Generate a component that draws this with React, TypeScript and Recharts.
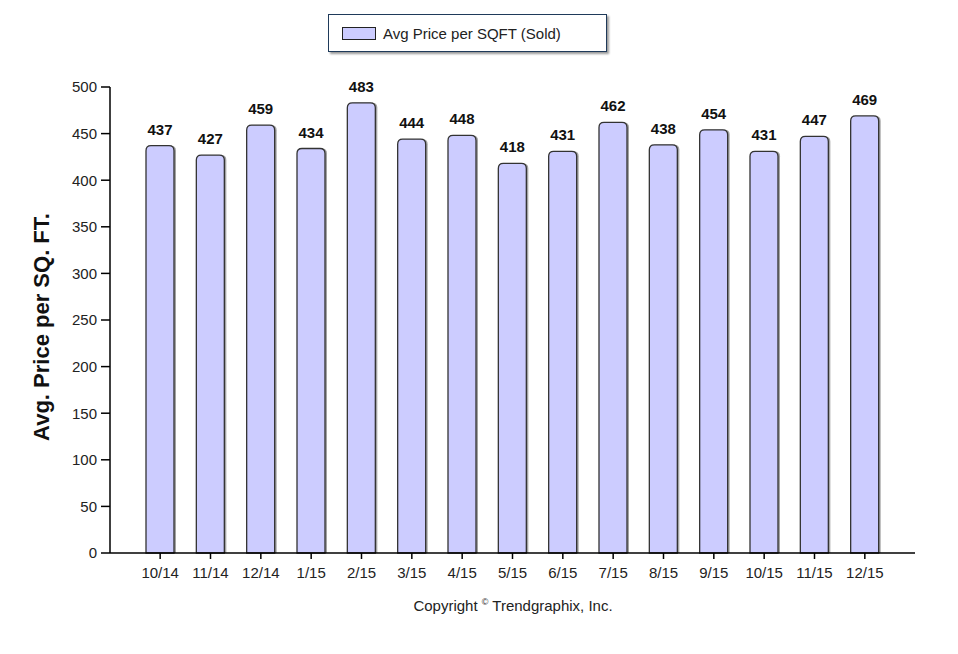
import React from 'react';
import { BarChart, Bar, XAxis, YAxis, LabelList, Legend } from 'recharts';

const months = ['10/14', '11/14', '12/14', '1/15', '2/15', '3/15', '4/15', '5/15', '6/15', '7/15', '8/15', '9/15', '10/15', '11/15', '12/15'];
const avgPrice = [437, 427, 459, 434, 483, 444, 448, 418, 431, 462, 438, 454, 431, 447, 469];
const yTicks = [0, 50, 100, 150, 200, 250, 300, 350, 400, 450, 500];

const data = months.map((m, i) => ({ month: m, price: avgPrice[i] }));

const FONT = '"Liberation Sans", Arial, sans-serif';

// rounded-top bar with a grey drop shadow on the right
function ShadowBar(props: any) {
  const { x, y, width, height } = props;
  if (!height || height <= 0) return null;
  const r = 5;
  const path = (ox: number) =>
    `M${x + ox},${y + height} L${x + ox},${y + r} Q${x + ox},${y} ${x + ox + r},${y} ` +
    `L${x + ox + width - r},${y} Q${x + ox + width},${y} ${x + ox + width},${y + r} L${x + ox + width},${y + height} Z`;
  return (
    <g>
      <path d={path(2)} fill="#8c8c8c" opacity={0.8} />
      <path d={path(0)} fill="#ccccff" stroke="#333" strokeWidth={1.3} />
    </g>
  );
}

function LegendBox() {
  return (
    <div
      style={{
        position: 'absolute',
        left: 320,
        top: 6,
        width: 279,
        height: 38,
        border: '1px solid #1f3a5a',
        boxShadow: '2px 2px 2px #9a9a9a',
        background: '#fff',
        display: 'flex',
        alignItems: 'center',
        fontFamily: FONT,
        fontSize: 15,
        color: '#222',
        boxSizing: 'border-box',
      }}
    >
      <span
        style={{
          display: 'inline-block',
          width: 32,
          height: 11,
          background: '#ccccff',
          border: '1px solid #222',
          marginLeft: 13,
          marginRight: 7,
        }}
      />
      Avg Price per SQFT (Sold)
    </div>
  );
}

function YLabel() {
  return (
    <text
      x={0}
      y={0}
      transform="translate(41,319) rotate(-90)"
      textAnchor="middle"
      fontFamily={FONT}
      fontSize={22}
      fontWeight="bold"
      fill="#111"
    >
      Avg. Price per SQ. FT.
    </text>
  );
}

export default function App() {
  return (
    <div style={{ position: 'relative', width: 950, height: 640 }}>
      <BarChart width={950} height={640} data={data} margin={{ top: 79, right: 43, bottom: 65, left: 0 }} barSize={28}>
        <XAxis
          dataKey="month"
          padding={{ left: 25, right: 25 }}
          axisLine={{ stroke: '#000', strokeWidth: 1.5 }}
          tickLine={{ stroke: '#000', strokeWidth: 1.5 }}
          tickSize={6}
          tickMargin={8}
          tick={{ fill: '#222', fontSize: 15, fontFamily: FONT }}
          height={30}
          interval={0}
        />
        <YAxis
          domain={[0, 500]}
          ticks={yTicks}
          width={102}
          axisLine={{ stroke: '#000', strokeWidth: 1.5 }}
          tickLine={{ stroke: '#000', strokeWidth: 1.5 }}
          tickSize={9}
          tickMargin={4}
          tick={{ fill: '#222', fontSize: 15, fontFamily: FONT }}
          label={<YLabel />}
        />
        <Legend content={() => null} />
        <Bar dataKey="price" shape={<ShadowBar />} isAnimationActive={false}>
          <LabelList dataKey="price" position="top" offset={11} style={{ fontFamily: FONT, fontSize: 15, fontWeight: 'bold', fill: '#111' }} />
        </Bar>
      </BarChart>
      <LegendBox />
      <div
        style={{
          position: 'absolute',
          left: 0,
          width: 1010,
          top: 589,
          textAlign: 'center',
          fontFamily: FONT,
          fontSize: 15,
          color: '#222',
        }}
      >
        Copyright <sup style={{ fontSize: 9 }}>©</sup> Trendgraphix, Inc.
      </div>
    </div>
  );
}
